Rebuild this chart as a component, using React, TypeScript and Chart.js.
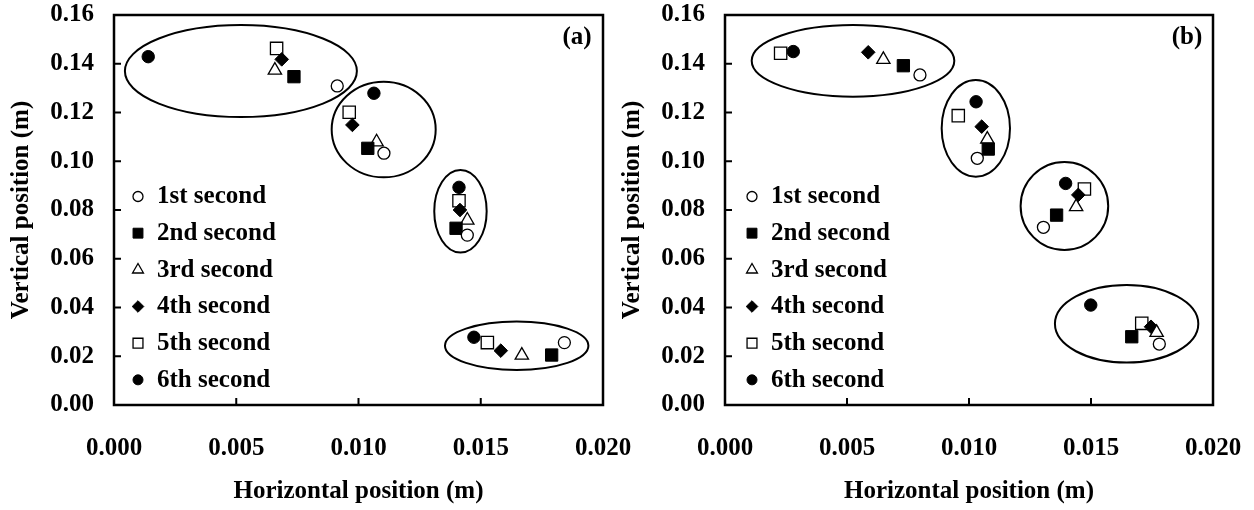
import { useEffect, useRef } from 'react';
import { Chart, registerables } from 'chart.js';

Chart.register(...registerables);

type Pt = [number, number];
type Ell = [number, number, number, number]; // centre x, centre y, radius x, radius y (data units)

const FONT_FAMILY = '"Liberation Serif", "Times New Roman", serif';

const SERIES_NAMES = ['1st second', '2nd second', '3rd second', '4th second', '5th second', '6th second'];
const X_TICKS = [0, 0.005, 0.01, 0.015, 0.02];
const Y_TICKS = [0, 0.02, 0.04, 0.06, 0.08, 0.1, 0.12, 0.14, 0.16];
const X_TITLE = 'Horizontal position (m)';
const Y_TITLE = 'Vertical position (m)';

// ---- panel (a) ----
const A_1ST: Pt[] = [[0.00913, 0.1309], [0.01104, 0.1033], [0.01445, 0.0697], [0.01842, 0.0256]];
const A_2ND: Pt[] = [[0.00736, 0.1347], [0.01038, 0.1053], [0.01399, 0.0725], [0.0179, 0.0205]];
const A_3RD: Pt[] = [[0.00658, 0.1373], [0.01074, 0.1079], [0.01445, 0.0758], [0.01668, 0.0204]];
const A_4TH: Pt[] = [[0.00686, 0.1418], [0.00975, 0.1149], [0.01415, 0.08], [0.01582, 0.0223]];
const A_5TH: Pt[] = [[0.00665, 0.1463], [0.00962, 0.1201], [0.01411, 0.0838], [0.01527, 0.0256]];
const A_6TH: Pt[] = [[0.0014, 0.1429], [0.01063, 0.1279], [0.01411, 0.0893], [0.01472, 0.0278]];
const A_ELLIPSES: Ell[] = [
  [0.00519, 0.137, 0.004744, 0.01887],
  [0.01103, 0.113, 0.002127, 0.01961],
  [0.01417, 0.0795, 0.001072, 0.01694],
  [0.01647, 0.0243, 0.002933, 0.00993],
];

// ---- panel (b) ----
const B_1ST: Pt[] = [[0.00799, 0.1354], [0.01034, 0.1012], [0.01305, 0.0729], [0.0178, 0.025]];
const B_2ND: Pt[] = [[0.00731, 0.1392], [0.01079, 0.105], [0.01359, 0.0779], [0.01667, 0.028]];
const B_3RD: Pt[] = [[0.00649, 0.1417], [0.01075, 0.109], [0.01439, 0.0813], [0.01769, 0.0297]];
const B_4TH: Pt[] = [[0.00587, 0.1447], [0.01052, 0.1142], [0.01448, 0.0862], [0.01746, 0.0321]];
const B_5TH: Pt[] = [[0.00228, 0.1443], [0.00956, 0.1187], [0.01473, 0.0886], [0.01708, 0.0335]];
const B_6TH: Pt[] = [[0.0028, 0.145], [0.01029, 0.1244], [0.01396, 0.0909], [0.01499, 0.041]];
const B_ELLIPSES: Ell[] = [
  [0.005246, 0.1412, 0.004152, 0.01469],
  [0.01028, 0.1135, 0.0014, 0.01983],
  [0.01391, 0.08164, 0.001795, 0.01805],
  [0.01646, 0.03331, 0.002938, 0.01592],
];

// marker styles (Chart.js point styles), one per series
const MARKERS = [
  { style: 'circle', r: 6, fill: '#ffffff', lw: 1.3, lr: 5 },
  { style: 'rect', r: 8.7, fill: '#000000', lw: 1, lr: 7 },
  { style: 'triangle', r: 7.7, fill: '#ffffff', lw: 1.3, lr: 6.3 },
  { style: 'rectRot', r: 6.8, fill: '#000000', lw: 1, lr: 5.8 },
  { style: 'rect', r: 8.7, fill: '#ffffff', lw: 1.3, lr: 7 },
  { style: 'circle', r: 6.2, fill: '#000000', lw: 1, lr: 5 },
];

function drawMarker(ctx: CanvasRenderingContext2D, style: string, x: number, y: number, r: number, fill: string, lw: number) {
  ctx.save();
  ctx.beginPath();
  if (style === 'circle') {
    ctx.arc(x, y, r, 0, Math.PI * 2);
  } else if (style === 'rect') {
    const s = Math.SQRT1_2 * r;
    ctx.rect(x - s, y - s, 2 * s, 2 * s);
  } else if (style === 'triangle') {
    ctx.moveTo(x, y - r);
    ctx.lineTo(x + r * Math.sin((2 * Math.PI) / 3), y - r * Math.cos((2 * Math.PI) / 3));
    ctx.lineTo(x + r * Math.sin((4 * Math.PI) / 3), y - r * Math.cos((4 * Math.PI) / 3));
  } else if (style === 'rectRot') {
    ctx.moveTo(x - r, y);
    ctx.lineTo(x, y - r);
    ctx.lineTo(x + r, y);
    ctx.lineTo(x, y + r);
  }
  ctx.closePath();
  ctx.fillStyle = fill;
  ctx.fill();
  ctx.lineWidth = lw;
  ctx.strokeStyle = '#000000';
  ctx.stroke();
  ctx.restore();
}

type PanelProps = {
  series: Pt[][];
  ellipses: Ell[];
  tag: string;
  left: number;
  width: number;
  rightPad: number;
  legendDx: number;
};

const FONT_SIZE = 25;
const FONT = { family: FONT_FAMILY, size: FONT_SIZE, weight: 'bold' as const };

function Panel({ series, ellipses, tag, left, width, rightPad, legendDx }: PanelProps) {
  const ref = useRef<HTMLCanvasElement | null>(null);

  useEffect(() => {
    if (!ref.current) return;
    const decor = {
      id: 'decor',
      beforeDatasetsDraw(chart: any) {
        const { ctx, scales } = chart;
        const xs = scales.x;
        const ys = scales.y;
        ctx.save();
        ctx.lineWidth = 2;
        ctx.strokeStyle = '#000';
        for (const [cx, cy, rx, ry] of ellipses) {
          const px = xs.getPixelForValue(cx);
          const py = ys.getPixelForValue(cy);
          const prx = Math.abs(xs.getPixelForValue(cx + rx) - px);
          const pry = Math.abs(ys.getPixelForValue(cy + ry) - py);
          ctx.beginPath();
          ctx.ellipse(px, py, prx, pry, 0, 0, Math.PI * 2);
          ctx.stroke();
        }
        ctx.restore();
      },
      afterDraw(chart: any) {
        const { ctx, chartArea, scales } = chart;
        const xs = scales.x;
        const ys = scales.y;
        const { left: l, right: r, top: t, bottom: b } = chartArea;
        ctx.save();
        ctx.strokeStyle = '#000';
        ctx.lineWidth = 2.5;
        ctx.strokeRect(l, t, r - l, b - t);
        ctx.lineWidth = 2;
        ctx.beginPath();
        for (const v of Y_TICKS.slice(1, -1)) {
          const py = ys.getPixelForValue(v);
          ctx.moveTo(l, py);
          ctx.lineTo(l + 7, py);
        }
        for (const v of X_TICKS.slice(1, -1)) {
          const px = xs.getPixelForValue(v);
          ctx.moveTo(px, b);
          ctx.lineTo(px, b - 7);
        }
        ctx.stroke();

        // legend inside plot area
        ctx.font = `bold ${FONT_SIZE}px ${FONT_FAMILY}`;
        ctx.fillStyle = '#000';
        ctx.textBaseline = 'middle';
        ctx.textAlign = 'left';
        SERIES_NAMES.forEach((name, i) => {
          const m = MARKERS[i];
          const yy = t + 181.5 + i * 36.67;
          drawMarker(ctx, m.style, l + legendDx, yy, m.lr, m.fill, m.lw);
          ctx.fillText(name, l + legendDx + 19, yy + 0.5);
        });

        // panel tag
        ctx.textAlign = 'center';
        ctx.fillText(tag, r - 26, t + 23);
        ctx.restore();
      },
    };

    const chart = new Chart(ref.current, {
      type: 'scatter',
      data: {
        datasets: series.map((pts, i) => ({
          label: SERIES_NAMES[i],
          data: pts.map(([x, y]) => ({ x, y })),
          pointStyle: MARKERS[i].style as any,
          pointRadius: MARKERS[i].r,
          pointHoverRadius: MARKERS[i].r,
          pointBackgroundColor: MARKERS[i].fill,
          pointBorderColor: '#000',
          pointBorderWidth: MARKERS[i].lw,
          showLine: false,
        })),
      },
      options: {
        responsive: false,
        animation: false,
        events: [],
        layout: { padding: { left: 0, top: 15, right: rightPad, bottom: 0 } },
        plugins: { legend: { display: false }, tooltip: { enabled: false } },
        scales: {
          x: {
            type: 'linear',
            min: 0,
            max: 0.02,
            afterBuildTicks: (s: any) => {
              s.ticks = X_TICKS.map((v) => ({ value: v }));
            },
            afterFit: (s: any) => {
              s.height = 105;
              s.paddingLeft = 0;
              s.paddingRight = 0;
            },
            ticks: {
              callback: (v: any) => Number(v).toFixed(3),
              font: FONT,
              color: '#000',
              padding: 29,
              maxRotation: 0,
              autoSkip: false,
            },
            grid: { display: false, drawTicks: false },
            border: { display: false },
            title: { display: true, text: X_TITLE, font: FONT, color: '#000', padding: { top: 0, bottom: 3 } },
          },
          y: {
            type: 'linear',
            min: 0,
            max: 0.16,
            afterBuildTicks: (s: any) => {
              s.ticks = Y_TICKS.map((v) => ({ value: v }));
            },
            afterFit: (s: any) => {
              s.width = 114;
              s.paddingTop = 0;
              s.paddingBottom = 0;
            },
            ticks: {
              callback: (v: any) => Number(v).toFixed(2),
              font: FONT,
              color: '#000',
              padding: 20,
              autoSkip: false,
            },
            grid: { display: false, drawTicks: false },
            border: { display: false },
            title: { display: true, text: Y_TITLE, font: FONT, color: '#000', padding: { top: 7, bottom: 0 } },
          },
        },
      },
      plugins: [decor],
    } as any);

    return () => chart.destroy();
  }, [series, ellipses, tag, rightPad, legendDx]);

  return (
    <canvas
      ref={ref}
      width={width}
      height={510}
      style={{ position: 'absolute', left, top: 0, width, height: 510 }}
    />
  );
}

const SERIES_A = [A_1ST, A_2ND, A_3RD, A_4TH, A_5TH, A_6TH];
const SERIES_B = [B_1ST, B_2ND, B_3RD, B_4TH, B_5TH, B_6TH];

export default function App() {
  return (
    <div style={{ position: 'absolute', left: 0, top: 0, width: 1254, height: 510, background: '#fff', overflow: 'hidden' }}>
      <Panel series={SERIES_A} ellipses={A_ELLIPSES} tag="(a)" left={0} width={640} rightPad={37} legendDx={24} />
      <Panel series={SERIES_B} ellipses={B_ELLIPSES} tag="(b)" left={611} width={643} rightPad={41} legendDx={27} />
    </div>
  );
}
